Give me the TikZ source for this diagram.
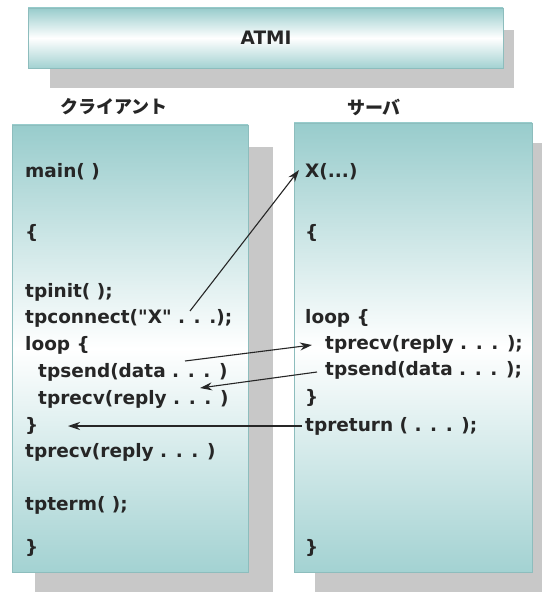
\documentclass[tikz,border=0pt]{standalone}
\usepackage{fontspec}
\setmainfont{DejaVu Sans}
\newfontfamily\codefont{DejaVu Sans}
\newfontfamily\jpfont{Noto Sans CJK JP}
\usetikzlibrary{arrows.meta}
\definecolor{tealA}{HTML}{98CCCC}
\definecolor{tealB}{HTML}{A3D2D2}
\definecolor{edgeteal}{HTML}{8DBDBD}
\definecolor{shadowgray}{HTML}{C8C8C8}
\definecolor{ink}{HTML}{262626}
\begin{document}
\begin{tikzpicture}[x=1pt,y=-1pt,
  code/.style={anchor=west, inner sep=0pt, font=\codefont\fontsize{18.5}{18.5}\selectfont\bfseries, text=ink},
  jplabel/.style={inner sep=0pt, font=\jpfont\fontsize{18}{18}\selectfont\bfseries, text=ink},
  panel/.style={draw=edgeteal, line width=0.6pt, top color=tealA, bottom color=tealB, middle color=white},
  shadowbox/.style={fill=shadowgray, draw=none},
  msg/.style={draw=ink, line width=1.1pt, -{Stealth[length=12pt,width=8pt]}}]
\useasboundingbox (0,0) rectangle (542,593);
\fill[white] (0,0) rectangle (542,593);
% shadows
\path[shadowbox] (50,30) rectangle (514,88);
\path[shadowbox] (35,147) rectangle (273,592);
\path[shadowbox] (315,143) rectangle (542,592);
% panels
\path[panel] (28,8) rectangle (503,68);
\path[panel] (12,125) rectangle (248,572);
\path[panel] (294,123) rectangle (532,572);
% titles
\node[inner sep=0pt, font=\codefont\fontsize{18.5}{18.5}\selectfont\bfseries, text=ink] (atmi) at (266,38) {ATMI};
\node[jplabel] (client) at (114,107) {クライアント};
\node[jplabel] (server) at (374,107) {サーバ};
% client code
\node[code] (cmain) at (25,172) {main( )};
\node[code] (copen) at (25,233) {\{};
\node[code] (cinit) at (25,292) {tpinit( );};
\node[code] (cconn) at (25,318) {tpconnect("X" . . .);};
\node[code] (cloop) at (25,345) {loop \{};
\node[code] (csend) at (38,372) {tpsend(data . . . )};
\node[code] (crecv) at (38,399) {tprecv(reply . . . )};
\node[code] (cclose) at (25,426) {\}};
\node[code] (crecv2) at (25,452) {tprecv(reply . . . )};
\node[code] (cterm) at (25,505) {tpterm( );};
\node[code] (cend) at (25,548) {\}};
% server code
\node[code] (sx) at (305,172) {X(...)};
\node[code] (sopen) at (305,233) {\{};
\node[code] (sloop) at (305,318) {loop \{};
\node[code] (srecv) at (325,344) {tprecv(reply . . . );};
\node[code] (ssend) at (325,370) {tpsend(data . . . );};
\node[code] (sclose) at (305,398) {\}};
\node[code] (sret) at (305,426) {tpreturn ( . . . );};
\node[code] (send) at (305,548) {\}};
% connector end points
\coordinate (a1s) at (190,311);
\coordinate (a2s) at (185,361);
\coordinate (a3e) at (200,388);
\coordinate (a4e) at (68,426);
\draw[msg] (a1s) -- ([xshift=-6pt,yshift=2pt]sx.west);
\draw[msg] (a2s) -- ([xshift=-13pt,yshift=-1pt]srecv.west);
\draw[msg] ([xshift=-8pt,yshift=-2pt]ssend.west) -- (a3e);
\draw[msg] ([xshift=-3pt]sret.west) -- (a4e);
\end{tikzpicture}
\end{document}
